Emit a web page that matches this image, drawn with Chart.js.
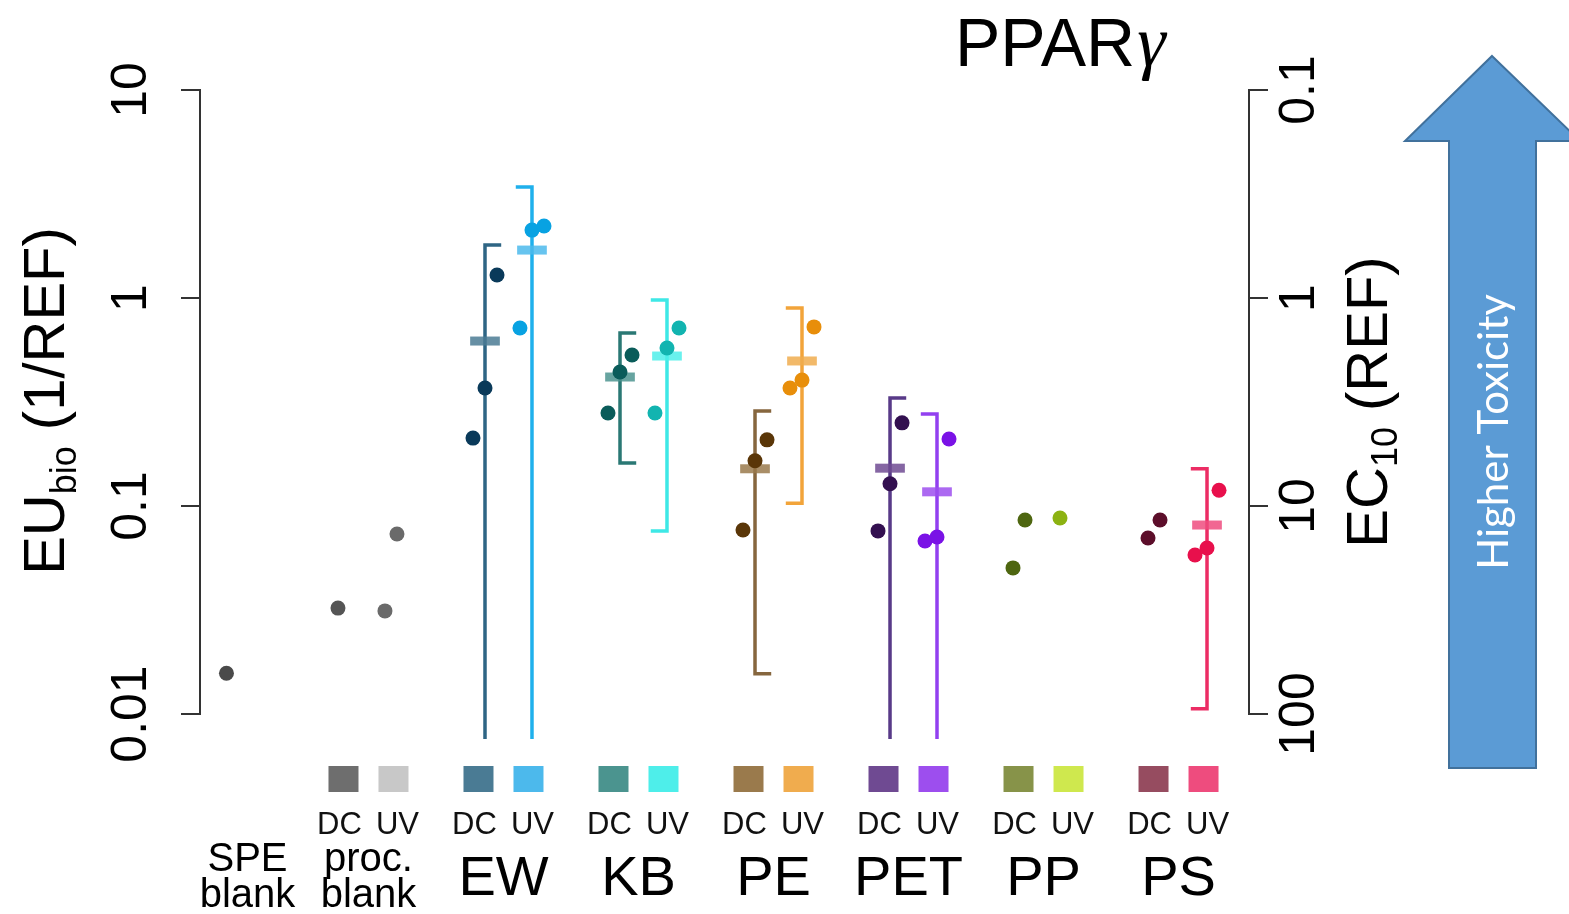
<!DOCTYPE html>
<html>
<head>
<meta charset="utf-8">
<title>PPARγ</title>
<script src="https://cdn.jsdelivr.net/npm/chart.js@4.4.1/dist/chart.umd.min.js"></script>
<style>
  html, body { margin: 0; padding: 0; background: #fff; }
  #wrap { width: 1569px; height: 914px; }
</style>
</head>
<body>
<div id="wrap"><canvas id="myChart" width="1569" height="914"></canvas></div>
<script>
// --- datos ---
const groups = ['SPE\nblank', 'proc.\nblank', 'EW', 'KB', 'PE', 'PET', 'PP', 'PS'];
const treatments = ['DC', 'UV'];

// una entrada por columna: grupo y tratamiento (-1 DC, +1 UV, 0 columna unica)
const colGroup = [0, 1, 1, 2, 2, 3, 3, 4, 4, 5, 5, 6, 6, 7, 7];
const colSide  = [0, -1, 1, -1, 1, -1, 1, -1, 1, -1, 1, -1, 1, -1, 1];

// EU bio (1/REF) de cada replica, de izquierda a derecha
const replicates = [
  [0.0157],
  [0.0323],
  [0.0313, 0.0733],
  [0.212, 0.369, 1.29],
  [0.717, 2.12, 2.22],
  [0.280, 0.441, 0.532],
  [0.280, 0.575, 0.717],
  [0.0767, 0.165, 0.208],
  [0.369, 0.403, 0.726],
  [0.0759, 0.128, 0.251],
  [0.0679, 0.0710, 0.210],
  [0.0504, 0.0857],
  [0.0875],
  [0.0702, 0.0857],
  [0.0581, 0.0628, 0.119]
];
// media y barra de error (0 = el limite inferior sale del grafico)
const means = [null, null, null, 0.621, 1.70, 0.417, 0.526, 0.151, 0.498, 0.152, 0.117, null, null, null, 0.081];
const upper = [null, null, null, 1.80, 3.42, 0.679, 0.978, 0.286, 0.895, 0.331, 0.277, null, null, null, 0.151];
const lower = [null, null, null, 0, 0, 0.161, 0.0759, 0.0156, 0.103, 0, 0, null, null, null, 0.0106];

const euTicks = [0.01, 0.1, 1, 10];
const euTickLabels = ['0.01', '0.1', '1', '10'];
const ecTicks = [0.1, 1, 10, 100];
const ecTickLabels = ['0.1', '1', '10', '100'];

const chartTitle = ['PPAR', 'γ'];
const leftTitle = ['EU', 'bio', ' (1/REF)'];
const rightTitle = ['EC', '10', ' (REF)'];
const arrowText = 'Higher Toxicity';

// colores
const swatchColors = [null, '#6e6e6e', '#c8c8c8', '#4a7b94', '#4cb9ec', '#4b948f', '#4eeeea', '#9a7a4c', '#f0ac4e',
  '#6f4a92', '#9d4eee', '#879349', '#cfe84e', '#964c60', '#ee4c7e'];
const lineColors = [null, null, null, '#2e6584', '#1fb0ec', '#2a7874', '#3ee8e6', '#86663e', '#f2a43a',
  '#583a88', '#9240f0', null, null, null, '#ec2c64'];
const dotColors = ['#4a4a4a', '#555555', '#6a6a6a', '#0a3a5a', '#08a2e2', '#0a5c5a', '#12b4b0', '#5a3608', '#e88e0a',
  '#331050', '#7a12e6', '#4e6610', '#8cb212', '#5c0e2a', '#e8104c'];

const FONT = '"Liberation Sans", Arial, sans-serif';
const COL_OFFSET = 0.174, JITTER = 0.089, CAP = 0.12, MEAN_HALF = 0.11;
const PLOT_FLOOR = Math.pow(10, -2.12); // borde inferior de la region de dibujo

// --- datasets ---
const datasets = [];
colGroup.forEach((g, i) => {
  const cx = g + colSide[i] * COL_OFFSET;
  datasets.push({
    type: 'scatter',
    data: replicates[i].map((v, r) => ({ x: cx + (r - 1) * JITTER, y: v })),
    pointRadius: 7.5, pointHoverRadius: 7.5, pointBorderWidth: 0,
    pointBackgroundColor: dotColors[i], order: 0
  });
  if (means[i] !== null) {
    const cap = colSide[i] < 0 ? CAP : -CAP;
    const lo = lower[i] > 0 ? lower[i] : PLOT_FLOOR;
    const bar = [{ x: cx + cap, y: upper[i] }, { x: cx, y: upper[i] }, { x: cx, y: lo }];
    if (lower[i] > 0) bar.push({ x: cx + cap, y: lo });
    datasets.push({
      type: 'line', data: bar, borderColor: lineColors[i], borderWidth: 3.5,
      pointRadius: 0, fill: false, clip: false, tension: 0, borderJoinStyle: 'miter', order: 2
    });
    datasets.push({
      type: 'line', data: [{ x: cx - MEAN_HALF, y: means[i] }, { x: cx + MEAN_HALF, y: means[i] }],
      borderColor: swatchColors[i] + 'd8', borderWidth: 9, borderCapStyle: 'butt',
      pointRadius: 0, fill: false, order: 1
    });
  }
});

function drawRotatedTitle(ctx, parts, x, y, size, subShift) {
  const big = size + 'px ' + FONT;
  const small = Math.round(size * 0.62) + 'px ' + FONT;
  ctx.save();
  ctx.translate(x, y);
  ctx.rotate(-Math.PI / 2);
  ctx.font = big;
  const w0 = ctx.measureText(parts[0]).width, w2 = ctx.measureText(parts[2]).width;
  ctx.font = small;
  const w1 = ctx.measureText(parts[1]).width;
  let s = -(w0 + w1 + w2) / 2;
  ctx.textAlign = 'left';
  ctx.textBaseline = 'alphabetic';
  ctx.font = big; ctx.fillText(parts[0], s, 0); s += w0;
  ctx.font = small; ctx.fillText(parts[1], s, subShift); s += w1;
  ctx.font = big; ctx.fillText(parts[2], s, 0);
  ctx.restore();
}

// textos, leyenda y flecha
const annotate = {
  id: 'annotate',
  afterDraw(chart) {
    const ctx = chart.ctx;
    const xs = chart.scales.x;
    ctx.save();
    ctx.fillStyle = '#000';

    // titulo
    ctx.textAlign = 'left';
    ctx.textBaseline = 'alphabetic';
    ctx.font = '68px ' + FONT;
    ctx.fillText(chartTitle[0], 955, 66);
    const tw = ctx.measureText(chartTitle[0]).width;
    ctx.font = 'italic 72px "Liberation Serif", serif';
    ctx.fillText(chartTitle[1], 955 + tw + 2, 66);

    // titulos de ejes
    drawRotatedTitle(ctx, leftTitle, 64, 401, 58, 12);
    drawRotatedTitle(ctx, rightTitle, 1387, 402, 58, 10);

    // cuadros de color y DC / UV
    ctx.textAlign = 'center';
    colGroup.forEach((g, i) => {
      if (colSide[i] === 0) return;
      const gx = xs.getPixelForValue(g) - 5;
      const sx = gx + colSide[i] * 25;
      ctx.fillStyle = swatchColors[i];
      ctx.fillRect(sx - 15, 766, 30, 26);
      ctx.fillStyle = '#111';
      ctx.font = '31px ' + FONT;
      ctx.fillText(treatments[colSide[i] < 0 ? 0 : 1], gx + colSide[i] * 29, 834);
    });

    // nombres de grupo
    ctx.fillStyle = '#000';
    groups.forEach((name, g) => {
      const gx = xs.getPixelForValue(g) - 5 + (g === 0 ? 14 : 0);
      const lines = name.split('\n');
      if (lines.length > 1) {
        ctx.font = '40px ' + FONT;
        ctx.fillText(lines[0], gx, 871);
        ctx.fillText(lines[1], gx, 907);
      } else {
        ctx.font = '56px ' + FONT;
        ctx.fillText(name, gx, 895);
      }
    });

    // flecha
    ctx.beginPath();
    ctx.moveTo(1492, 56);
    ctx.lineTo(1580, 141);
    ctx.lineTo(1536, 141);
    ctx.lineTo(1536, 768);
    ctx.lineTo(1449, 768);
    ctx.lineTo(1449, 141);
    ctx.lineTo(1405, 141);
    ctx.closePath();
    ctx.fillStyle = '#5b9bd5';
    ctx.fill();
    ctx.strokeStyle = '#41719c';
    ctx.lineWidth = 2;
    ctx.stroke();
    ctx.translate(1494, 432);
    ctx.rotate(-Math.PI / 2);
    ctx.fillStyle = '#fff';
    ctx.textBaseline = 'middle';
    ctx.font = '42px Lato, "Open Sans", sans-serif';
    ctx.fillText(arrowText, 0, 0);
    ctx.restore();
  }
};

const axisStyle = {
  border: { display: true, color: '#333', width: 2 },
  grid: { drawOnChartArea: false, drawTicks: true, tickLength: 19, color: '#333', lineWidth: 2 }
};

new Chart(document.getElementById('myChart'), {
  type: 'scatter',
  data: { datasets: datasets },
  options: {
    responsive: false,
    animation: false,
    devicePixelRatio: 1,
    events: [],
    layout: { padding: { top: 90, bottom: 200, left: 0, right: 0 } },
    plugins: { legend: { display: false }, tooltip: { enabled: false } },
    scales: {
      x: { type: 'linear', display: false, min: -0.285, max: 7.485 },
      y: {
        type: 'logarithmic', position: 'left', min: 0.01, max: 10,
        afterBuildTicks: s => { s.ticks = euTicks.map(v => ({ value: v })); },
        afterFit: s => { s.width = 200; },
        ...axisStyle,
        ticks: {
          autoSkip: false, minRotation: 90, maxRotation: 90, crossAlign: 'center', padding: 0,
          color: '#000', font: { family: FONT, size: 50 },
          callback: (v, i) => euTickLabels[i]
        }
      },
      y2: {
        type: 'logarithmic', position: 'right', min: 0.1, max: 100, reverse: true,
        afterBuildTicks: s => { s.ticks = ecTicks.map(v => ({ value: v })); },
        afterFit: s => { s.width = 320; },
        ...axisStyle,
        ticks: {
          autoSkip: false, minRotation: 90, maxRotation: 90, crossAlign: 'center', padding: -9,
          color: '#000', font: { family: FONT, size: 50 },
          callback: (v, i) => ecTickLabels[i]
        }
      }
    }
  },
  plugins: [annotate]
});
</script>
</body>
</html>
